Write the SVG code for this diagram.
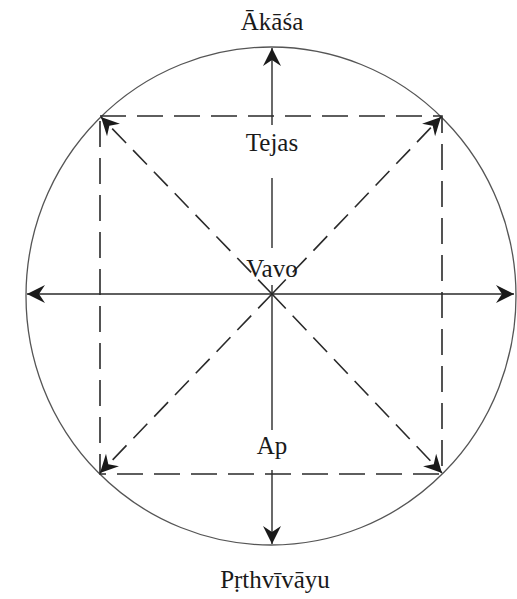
<svg xmlns="http://www.w3.org/2000/svg" width="517" height="599" viewBox="0 0 517 599">
<style>
.ln{stroke:#2a2a2a;stroke-width:1.4;fill:none}
.dash{stroke:#2a2a2a;stroke-width:1.6;fill:none;stroke-dasharray:26 11}
.ddash{stroke:#2a2a2a;stroke-width:1.6;fill:none;stroke-dasharray:20 10}
.circ{stroke:#555;stroke-width:1.3;fill:none}
.lbl{font-family:"Liberation Serif","Times New Roman",serif;font-size:25px;fill:#1a1a1a;text-anchor:middle}
</style>
<defs>
<marker id="ah" markerUnits="userSpaceOnUse" markerWidth="24" markerHeight="24" viewBox="-20 -12 24 24" refX="0" refY="0" orient="auto">
<path d="M0,0 L-18,-9 L-12,0 L-18,9 Z" fill="#1a1a1a"/>
</marker>
</defs>
<rect width="517" height="599" fill="#fff"/>
<g id="circle"><ellipse class="circ" cx="271" cy="296" rx="245" ry="249"/></g>
<g id="connectors">
<rect class="dash" x="100" y="116" width="342" height="358"/>
<line class="ln" x1="272" y1="125" x2="272" y2="48" marker-end="url(#ah)"/>
<line class="ln" x1="272" y1="178" x2="272" y2="248"/>
<line class="ln" x1="272" y1="285" x2="272" y2="430"/>
<line class="ln" x1="272" y1="470" x2="272" y2="544" marker-end="url(#ah)"/>
<line class="ln" x1="272" y1="294" x2="27" y2="294" marker-end="url(#ah)"/>
<line class="ln" x1="272" y1="294" x2="514" y2="294" marker-end="url(#ah)"/>
<line class="ddash" x1="272" y1="294" x2="101" y2="117" marker-end="url(#ah)"/>
<line class="ddash" x1="272" y1="294" x2="441" y2="117" marker-end="url(#ah)"/>
<line class="ddash" x1="272" y1="294" x2="100" y2="473" marker-end="url(#ah)"/>
<line class="ddash" x1="272" y1="294" x2="442" y2="473" marker-end="url(#ah)"/>
</g>
<g id="akasa"><text class="lbl" x="272" y="30">Ākāśa</text></g>
<g id="tejas"><text class="lbl" x="272" y="151">Tejas</text></g>
<g id="vavo"><text class="lbl" x="272" y="277">Vavo</text></g>
<g id="ap"><text class="lbl" x="272" y="454">Ap</text></g>
<g id="prthvivayu"><text class="lbl" x="275" y="588">Pṛthvīvāyu</text></g>
</svg>
